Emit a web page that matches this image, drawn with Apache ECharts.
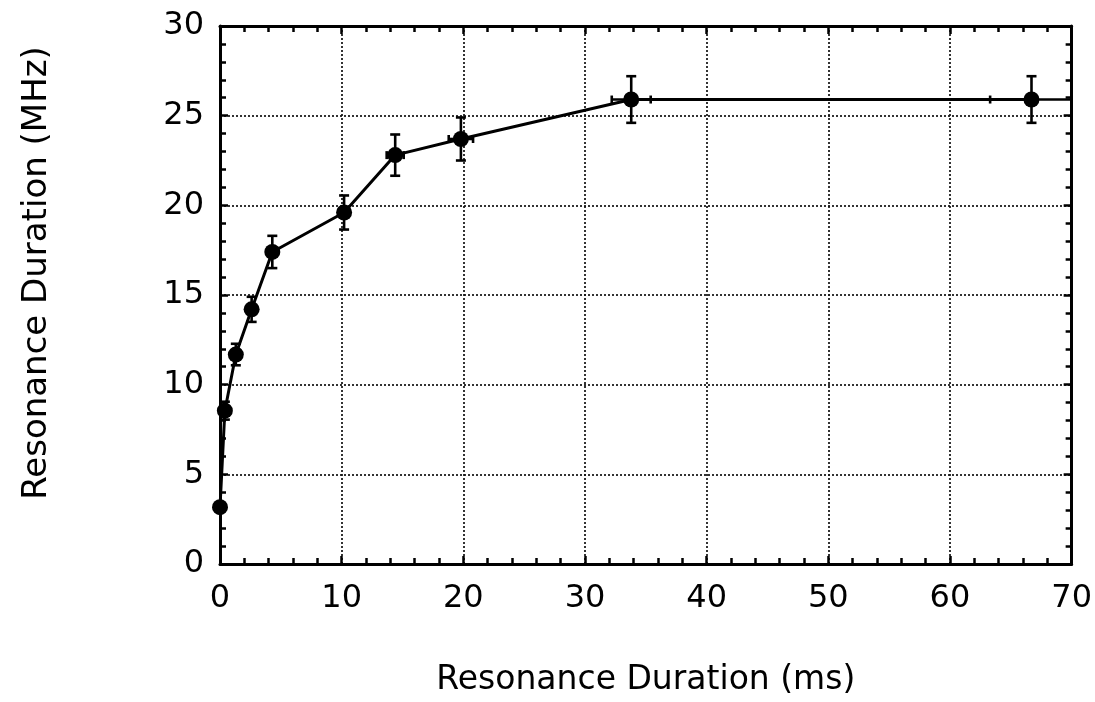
<!DOCTYPE html>
<html>
<head>
<meta charset="utf-8">
<script src="https://cdn.jsdelivr.net/npm/echarts@6/dist/echarts.min.js"></script>
<style>
  html, body {margin: 0; padding: 0; background: #fff;}
  #main {width: 1095px; height: 702px;}
</style>
</head>
<body>
<div id="main"></div>
<script>
// resonance duration (ms) vs width (MHz)
const durationMs = [0, 0.4, 1.3, 2.6, 4.3, 10.2, 14.4, 19.8, 33.8, 66.7];
const widthMHz = [3.17, 8.55, 11.68, 14.2, 17.4, 19.6, 22.8, 23.7, 25.9, 25.9];
const widthErr = [0, 0.5, 0.6, 0.7, 0.9, 0.95, 1.15, 1.2, 1.3, 1.3];
const durationErr = [0, 0, 0, 0, 0.3, 0.4, 0.7, 1.0, 1.6, 3.4];

const xTitle = 'Resonance Duration (ms)';
const yTitle = 'Resonance Duration (MHz)';

const font = 'DejaVu Sans';
const black = '#000';

const points = durationMs.map((x, i) => [x, widthMHz[i]]);
const errData = durationMs.map((x, i) => [x, widthMHz[i], widthErr[i], durationErr[i]]);

function renderErr(params, api) {
  const x = api.value(0), y = api.value(1), ye = api.value(2), xe = api.value(3);
  const style = {stroke: black, lineWidth: 2.6};
  const kids = [];
  if (ye > 0) {
    const top = api.coord([x, y + ye]);
    const bot = api.coord([x, y - ye]);
    kids.push({type: 'line', shape: {x1: top[0], y1: top[1], x2: bot[0], y2: bot[1]}, style});
    kids.push({type: 'line', shape: {x1: top[0] - 5, y1: top[1], x2: top[0] + 5, y2: top[1]}, style});
    kids.push({type: 'line', shape: {x1: bot[0] - 5, y1: bot[1], x2: bot[0] + 5, y2: bot[1]}, style});
  }
  if (xe > 0) {
    const l = api.coord([x - xe, y]);
    const r = api.coord([x + xe, y]);
    kids.push({type: 'line', shape: {x1: l[0], y1: l[1], x2: r[0], y2: r[1]}, style});
    kids.push({type: 'line', shape: {x1: l[0], y1: l[1] - 4, x2: l[0], y2: l[1] + 4}, style});
    kids.push({type: 'line', shape: {x1: r[0], y1: r[1] - 4, x2: r[0], y2: r[1] + 4}, style});
  }
  return {type: 'group', children: kids};
}

const axisLine = {show: true, onZero: false, lineStyle: {color: black, width: 3}};
const split = {show: true, lineStyle: {color: '#111', width: 1.7, type: [2, 2]}};
const tick = {show: true, inside: true, length: 8, lineStyle: {color: black, width: 2.5}};
const minor = {show: true, splitNumber: 5, length: 6, lineStyle: {color: black, width: 2.5}};

const chart = echarts.init(document.getElementById('main'));
chart.setOption({
  animation: false,
  backgroundColor: '#fff',
  grid: {left: 220, right: 23, top: 26, bottom: 136},
  xAxis: [{
    type: 'value', min: 0, max: 70, interval: 10,
    name: xTitle, nameLocation: 'middle', nameGap: 100,
    nameTextStyle: {fontFamily: font, fontSize: 33, color: black},
    axisLine, axisTick: tick, minorTick: minor,
    splitLine: split, minorSplitLine: {show: false},
    axisLabel: {fontFamily: font, fontSize: 32, color: black, margin: 19}
  }, {
    type: 'value', min: 0, max: 70, interval: 10, position: 'top',
    axisLine, axisTick: tick, minorTick: minor,
    splitLine: {show: false}, axisLabel: {show: false}
  }],
  yAxis: [{
    type: 'value', min: 0, max: 30, interval: 5,
    name: yTitle, nameLocation: 'middle', nameGap: 166,
    nameTextStyle: {fontFamily: font, fontSize: 34, color: black, padding: [0, 0, 0, 44]},
    axisLine, axisTick: tick, minorTick: minor,
    splitLine: split, minorSplitLine: {show: false},
    axisLabel: {fontFamily: font, fontSize: 32, color: black, margin: 16}
  }, {
    type: 'value', min: 0, max: 30, interval: 5, position: 'right',
    axisLine, axisTick: tick, minorTick: minor,
    splitLine: {show: false}, axisLabel: {show: false}
  }],
  series: [{
    type: 'line',
    data: points,
    symbol: 'circle',
    symbolSize: 16,
    itemStyle: {color: black},
    lineStyle: {color: black, width: 3},
    z: 3
  }, {
    type: 'custom',
    data: errData,
    renderItem: renderErr,
    clip: true,
    z: 2
  }]
});
</script>
</body>
</html>
